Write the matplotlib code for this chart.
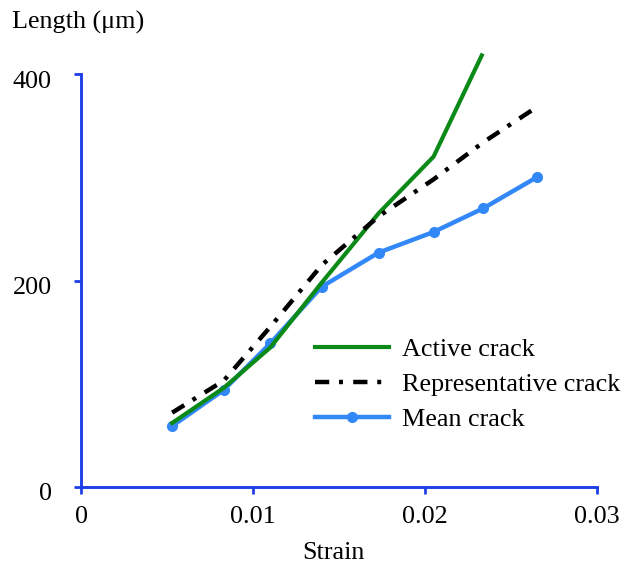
import matplotlib
matplotlib.use("Agg")
import matplotlib.pyplot as plt
import matplotlib.transforms as mtransforms

# ---- data ----
strain = [0.0053, 0.0083, 0.0110, 0.0140, 0.0173, 0.0205, 0.0234, 0.0265]
active_strain = [0.0053, 0.0083, 0.0110, 0.0140, 0.0173, 0.0205, 0.0233]
active_len = [62, 96, 135, 198, 265, 320, 418]
repr_len = [72, 103, 155, 215, 262, 298, 334, 368]
mean_len = [59, 94, 139, 194, 227, 247, 270, 300]
labels = ["Active crack", "Representative crack", "Mean crack"]
xticks = [0, 0.01, 0.02, 0.03]
xticklabels = ["0", "0.01", "0.02", "0.03"]
yticks = [0, 200, 400]
yticklabels = ["0", "200", "400"]

plt.rcParams['font.family'] = ['Liberation Serif', 'DejaVu Serif']
FS = 18.8
AXC = '#1f3fe6'
GREEN = '#0c8a17'
BLUE = '#3388f8'

fig = plt.figure(figsize=(6.25, 5.68), dpi=100)
W, H = 625, 568
ax = fig.add_axes([81 / W, 1 - 487 / H, (597 - 81) / W, (487 - 74) / H])

ax.plot(active_strain, active_len, color=GREEN, lw=3.0, clip_on=False,
        label=labels[0], zorder=3)
ax.plot(strain, repr_len, color='black', lw=3.2, clip_on=False,
        linestyle=(0, (3.2, 2.2, 0.9, 2.3)), label=labels[1], zorder=4)
ax.plot(strain, mean_len, color=BLUE, lw=3.2, marker='o', ms=7,
        clip_on=False, label=labels[2], zorder=2)

ax.set_xlim(0, 0.03)
ax.set_ylim(0, 400)
ax.set_xticks(xticks)
ax.set_xticklabels(xticklabels)
ax.set_yticks(yticks)
ax.set_yticklabels(yticklabels)
for s in ['top', 'right']:
    ax.spines[s].set_visible(False)
for s in ['left', 'bottom']:
    ax.spines[s].set_color(AXC)
    ax.spines[s].set_linewidth(2.1)
ax.tick_params(axis='both', direction='out', length=5, width=2.0,
               color=AXC, labelsize=FS, labelcolor='black')
ax.tick_params(axis='x', pad=9)
ax.tick_params(axis='y', pad=16)
offset = mtransforms.ScaledTranslation(0, -5 / 100, fig.dpi_scale_trans)
for lab in ax.get_yticklabels():
    lab.set_transform(lab.get_transform() + offset)

fig.text(12 / W, 1 - 22 / H, "Length (μm)", fontsize=FS, ha='left', va='center')
fig.text(333 / W, 1 - 553 / H, "Strain", fontsize=FS, ha='center', va='center')

leg = ax.legend(loc='upper left', bbox_to_anchor=(315 / W, 1 - 338 / H),
                bbox_transform=fig.transFigure, frameon=False, fontsize=FS,
                borderpad=0, borderaxespad=0, handlelength=2.85,
                handletextpad=0.5, labelspacing=0.45, numpoints=1)

fig.savefig("out.png", dpi=100)
